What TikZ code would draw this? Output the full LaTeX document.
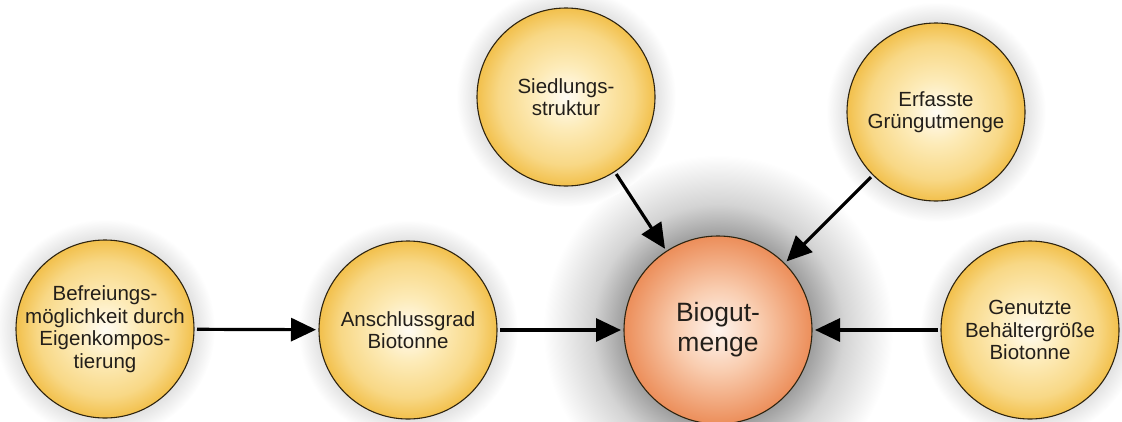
\documentclass[tikz,border=0pt]{standalone}
\usepackage{fontspec}
\setmainfont{Liberation Sans}
\usetikzlibrary{arrows.meta}
\definecolor{yin}{HTML}{FFFCF3}
\definecolor{ymid}{HTML}{FDEBB8}
\definecolor{ymid2}{HTML}{F8D886}
\definecolor{yout}{HTML}{F2C04C}
\definecolor{oin}{HTML}{FEF4EE}
\definecolor{omid}{HTML}{F9CDB0}
\definecolor{oout}{HTML}{EC8E5A}
\definecolor{rim}{HTML}{2E2410}
\definecolor{txt}{HTML}{231F1A}
\pgfdeclareradialshading{yball}{\pgfpointorigin}{color(0bp)=(yin); color(9bp)=(ymid); color(19bp)=(ymid2); color(25bp)=(yout); color(50bp)=(yout)}
\pgfdeclareradialshading{oball}{\pgfpointorigin}{color(0bp)=(oin); color(11bp)=(omid); color(25bp)=(oout); color(50bp)=(oout)}
\pgfdeclareradialshading{bigglow}{\pgfpointorigin}{color(0bp)=(black!45); color(13bp)=(black!40); color(18bp)=(black!17); color(25bp)=(white); color(50bp)=(white)}
\pgfdeclareradialshading{smallglow}{\pgfpointorigin}{color(0bp)=(black!25); color(20bp)=(black!12); color(25bp)=(white); color(50bp)=(white)}
\tikzset{
  ybub/.style={circle, draw=rim, line width=1.1pt, shade, shading=yball, minimum size=178pt, inner sep=0pt, outer sep=3pt},
  obub/.style={circle, draw=rim, line width=1.1pt, shade, shading=oball, minimum size=188pt, inner sep=0pt, outer sep=3pt},
  ytext/.style={align=center, text=txt, font=\fontsize{20.5}{22.5}\selectfont},
  otext/.style={align=center, text=txt, font=\fontsize{26.5}{30}\selectfont},
  conn/.style={line width=3.2pt, -{Triangle[length=25pt,width=23pt]}}
}
\begin{document}
\begin{tikzpicture}[x=1pt,y=-1pt]
\useasboundingbox (0,0) rectangle (1122,421);
% glows
\shade[shading=bigglow] (718,330) circle (175);
\foreach \p in {(105,329),(408,330),(1030,330),(566,97),(936,112)}{
  \shade[shading=smallglow] \p circle (110);
}
% bubbles
\node[ybub] (bef) at (105,329) {};
\node[ybub] (ans) at (408,330) {};
\node[obub] (bio) at (718,330) {};
\node[ybub] (gen) at (1030,330) {};
\node[ybub] (sie) at (566,97) {};
\node[ybub] (erf) at (936,112) {};
% texts
\node[ytext] (tbef) at (bef.center) {Befreiungs-\\möglichkeit durch\\Eigenkompos-\\tierung};
\node[ytext] (tans) at (ans.center) {Anschlussgrad\\Biotonne};
\node[otext] (tbio) at (bio.center) {Biogut-\\menge};
\node[ytext] (tgen) at (gen.center) {Genutzte\\Behältergröße\\Biotonne};
\node[ytext] (tsie) at (sie.center) {Siedlungs-\\struktur};
\node[ytext] (terf) at (erf.center) {Erfasste\\Grüngutmenge};
% connectors
\draw[conn] (bef) -- (ans);
\draw[conn] (ans) -- (bio);
\draw[conn] (gen) -- (bio);
\draw[conn] (sie) -- (bio);
\draw[conn] (erf) -- (bio);
\end{tikzpicture}
\end{document}
